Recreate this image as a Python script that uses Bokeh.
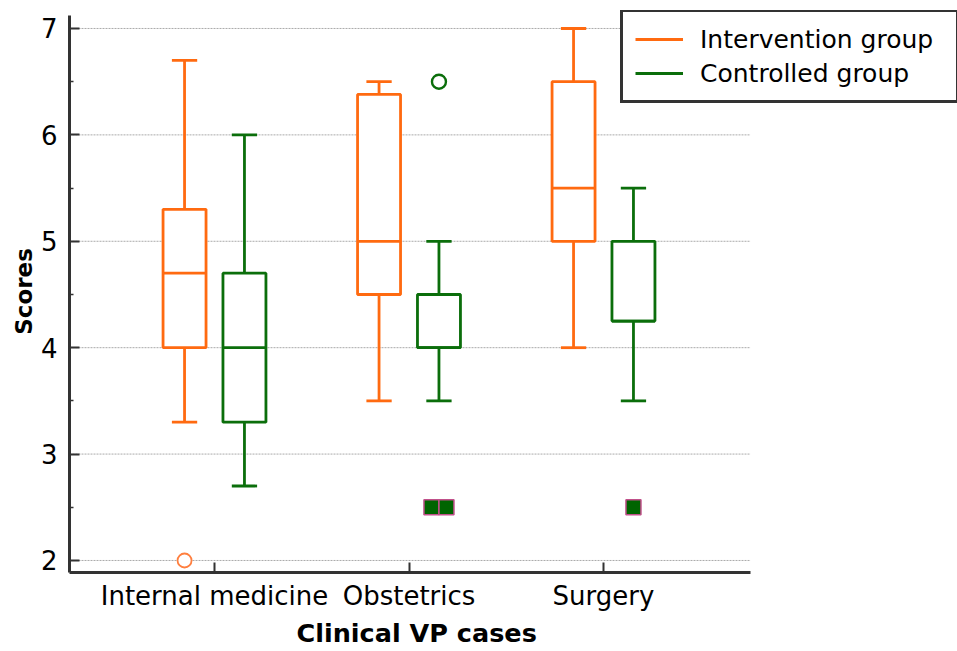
from bokeh.plotting import figure
from bokeh.models import FixedTicker, Legend, LegendItem, ColumnDataSource, Title
from bokeh.embed import file_html
from bokeh.resources import INLINE

# ---- data ----
categories = ["Internal medicine", "Obstetrics", "Surgery"]

int_upper = [6.7, 6.5, 7.0]
int_q3 = [5.3, 6.38, 6.5]
int_med = [4.7, 5.0, 5.5]
int_q1 = [4.0, 4.5, 5.0]
int_lower = [3.3, 3.5, 4.0]

ctl_upper = [6.0, 5.0, 5.5]
ctl_q3 = [4.7, 4.5, 5.0]
ctl_med = [4.0, 4.0, 4.25]
ctl_q1 = [3.3, 4.0, 4.25]
ctl_lower = [2.7, 3.5, 3.5]

int_out_cat = ["Internal medicine"]
int_out_val = [2.0]
ctl_out_cat = ["Obstetrics"]
ctl_out_val = [6.5]
ctl_far_cat = ["Obstetrics", "Obstetrics", "Surgery"]
ctl_far_val = [2.5, 2.5, 2.5]

y_ticks = [2, 3, 4, 5, 6, 7]

ORANGE = "#FF6A10"
GREEN = "#0B6E0B"
FONT = "DejaVu Sans"

X0, X1 = 0.2545, 3.756      # visible axis extent
Y0, Y1 = 1.887, 7.122

p = figure(width=957, height=651, output_backend="svg", toolbar_location=None,
           x_range=(X0, 4.820), y_range=(Y0, 7.169),
           min_border_left=69, min_border_right=0, min_border_top=10,
           min_border_bottom=79)
p.outline_line_color = None
p.background_fill_color = "white"

# dotted horizontal grid, limited to the axis extent
p.segment(x0=[X0] * len(y_ticks), y0=y_ticks, x1=[X1] * len(y_ticks), y1=y_ticks,
          line_color="#AAAAAA", line_dash="2 1", line_width=1)

pos = {c: i + 1 for i, c in enumerate(categories)}
OFF = 0.154
BW = 0.221
CW = 0.13
LW = 2.8


def draw_group(upper, q3, med, q1, lower, color, offset):
    xs = [pos[c] + offset for c in categories]
    src = ColumnDataSource(dict(x=xs, left=[x - BW / 2 for x in xs], right=[x + BW / 2 for x in xs],
                                cl=[x - CW / 2 for x in xs], cr=[x + CW / 2 for x in xs],
                                upper=upper, q3=q3, med=med, q1=q1, lower=lower))
    w1 = p.segment("x", "q3", "x", "upper", source=src, line_color=color, line_width=LW)
    p.segment("x", "q1", "x", "lower", source=src, line_color=color, line_width=LW)
    p.segment("cl", "upper", "cr", "upper", source=src, line_color=color, line_width=LW)
    p.segment("cl", "lower", "cr", "lower", source=src, line_color=color, line_width=LW)
    p.quad(left="left", right="right", top="q3", bottom="q1", source=src,
           fill_color="white", line_color=color, line_width=LW)
    p.segment("left", "med", "right", "med", source=src, line_color=color, line_width=LW)
    return w1


r_int = draw_group(int_upper, int_q3, int_med, int_q1, int_lower, ORANGE, -OFF)
r_ctl = draw_group(ctl_upper, ctl_q3, ctl_med, ctl_q1, ctl_lower, GREEN, OFF)

# outliers
p.scatter([pos[c] - OFF for c in int_out_cat], int_out_val, marker="circle", size=14,
          fill_color="white", line_color="#FF7F3F", line_width=1.8)
p.scatter([pos[c] + OFF for c in ctl_out_cat], ctl_out_val, marker="circle", size=14,
          fill_color="white", line_color=GREEN, line_width=2.4)

# far outliers: spread duplicates side by side
spread = 15 / 194.5
far_x = []
for i, (c, v) in enumerate(zip(ctl_far_cat, ctl_far_val)):
    dup = [j for j, (c2, v2) in enumerate(zip(ctl_far_cat, ctl_far_val)) if c2 == c and v2 == v]
    k = dup.index(i)
    n = len(dup)
    far_x.append(pos[c] + OFF + (k - (n - 1) / 2) * spread)
p.scatter(far_x, ctl_far_val, marker="square", size=15, fill_color="#006400",
          line_color="#C0508A", line_width=1.5)

# axes
for ax in (p.xaxis[0], p.yaxis[0]):
    ax.axis_line_color = "#333333"
    ax.axis_line_width = 3
    ax.major_tick_line_color = "#333333"
    ax.major_tick_line_width = 2
    ax.major_tick_in = 10
    ax.major_tick_out = 0
    ax.major_label_text_font = FONT
    ax.major_label_text_color = "black"
    ax.axis_label_text_font = FONT
    ax.axis_label_text_font_style = "bold"
    ax.axis_label_text_color = "black"

p.xaxis.bounds = (X0, X1)
p.xaxis.ticker = FixedTicker(ticks=[pos[c] for c in categories])
p.xaxis.major_label_overrides = {pos[c]: c for c in categories}
p.xaxis.minor_tick_line_color = None
p.xaxis.major_label_text_font_size = "26px"
p.xaxis.major_label_standoff = 8

# x axis title, centred under the drawn axis (not the wider frame)
xtitle = Title(text="Clinical VP cases", align="left", offset=227, standoff=4,
               text_font=FONT, text_font_size="25.5px", text_font_style="bold",
               text_color="black")
p.add_layout(xtitle, "below")

p.yaxis.bounds = (Y0, Y1)
p.yaxis.ticker = FixedTicker(ticks=y_ticks, minor_ticks=[t + 0.5 for t in y_ticks[:-1]])
p.yaxis.minor_tick_in = 4
p.yaxis.minor_tick_out = 0
p.yaxis.minor_tick_line_color = "#333333"
p.yaxis.minor_tick_line_width = 1.5
p.yaxis.major_label_text_font_size = "26px"
p.yaxis.major_label_standoff = 12
p.yaxis.axis_label = "Scores"
p.yaxis.axis_label_text_font_size = "23px"
p.yaxis.axis_label_standoff = 1

p.xgrid.grid_line_color = None
p.ygrid.grid_line_color = None

legend = Legend(items=[LegendItem(label="Intervention group", renderers=[r_int]),
                       LegendItem(label="Controlled group", renderers=[r_ctl])],
                location=(551, 469))
legend.label_text_font = FONT
legend.label_text_font_size = "25px"
legend.label_text_color = "black"
legend.border_line_color = "#333333"
legend.border_line_alpha = 1
legend.border_line_width = 3
legend.background_fill_color = "white"
legend.background_fill_alpha = 1
legend.padding = 12
legend.spacing = 4
legend.glyph_width = 48
legend.glyph_height = 30
legend.label_height = 30
legend.label_width = 244
legend.label_standoff = 17
legend.margin = 0
p.add_layout(legend, "center")

open("out.html", "w").write(file_html(p, INLINE))
